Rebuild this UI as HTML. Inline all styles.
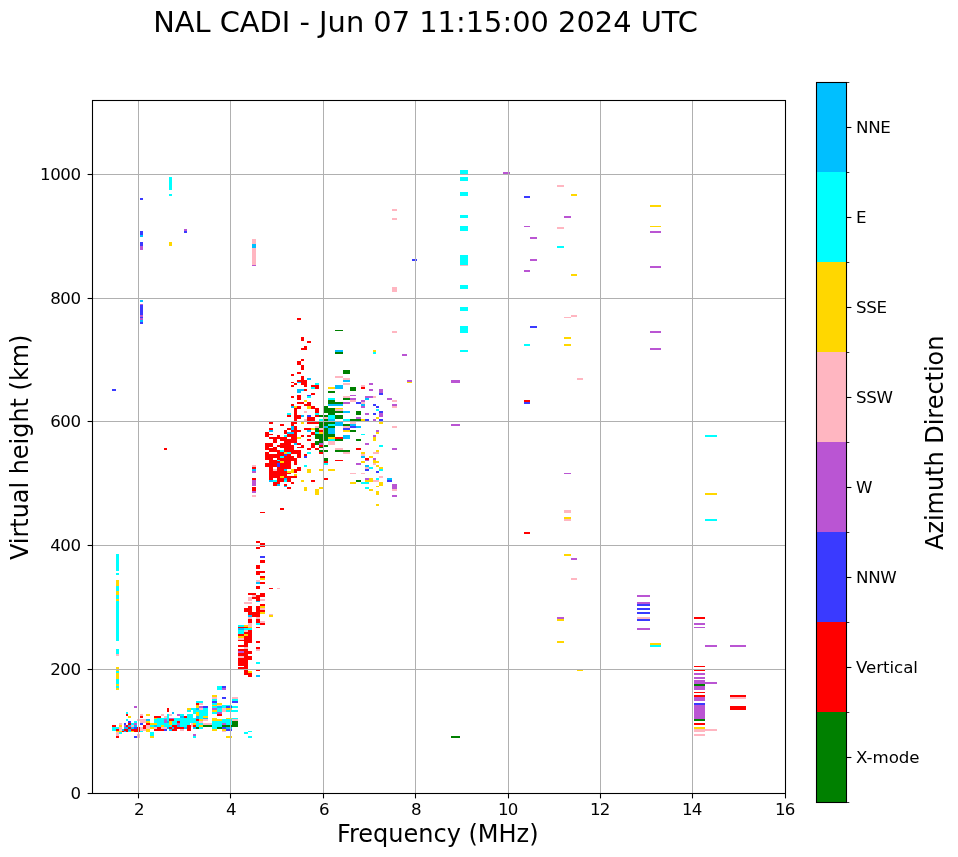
<!DOCTYPE html>
<html lang="en"><head><meta charset="utf-8"><title>NAL CADI ionogram</title>
<style>html,body{margin:0;padding:0;background:#fff}body{width:958px;height:857px;overflow:hidden}svg{display:block}text{font-family:"DejaVu Sans","Liberation Sans",sans-serif;fill:#000}</style></head><body>
<svg width="958" height="857" viewBox="0 0 958 857">
<rect width="958" height="857" fill="#fff"/>
<g shape-rendering="crispEdges">
<rect x="116" y="669" width="3" height="2" fill="#ffd700"/>
<rect x="116" y="671" width="3" height="2" fill="#00ffff"/>
<rect x="116" y="673" width="3" height="6" fill="#ffd700"/>
<rect x="116" y="679" width="3" height="5" fill="#00ffff"/>
<rect x="116" y="684" width="3" height="2" fill="#ffd700"/>
<rect x="116" y="686" width="3" height="2" fill="#00ffff"/>
<rect x="116" y="688" width="3" height="2" fill="#ffd700"/>
<rect x="134" y="706" width="3" height="2" fill="#ba55d3"/>
<rect x="167" y="708" width="2" height="4" fill="#ff0000"/>
<rect x="187" y="708" width="3" height="2" fill="#ffd700"/>
<rect x="187" y="710" width="3" height="2" fill="#00ffff"/>
<rect x="172" y="712" width="2" height="2" fill="#00bfff"/>
<rect x="126" y="712" width="2" height="2" fill="#00ffff"/>
<rect x="126" y="714" width="2" height="2" fill="#ff0000"/>
<rect x="128" y="716" width="3" height="2" fill="#ffd700"/>
<rect x="140" y="714" width="3" height="2" fill="#ffb6c1"/>
<rect x="140" y="716" width="3" height="2" fill="#ff0000"/>
<rect x="146" y="714" width="4" height="2" fill="#ffd700"/>
<rect x="161" y="714" width="3" height="2" fill="#ffb6c1"/>
<rect x="169" y="714" width="3" height="2" fill="#ffb6c1"/>
<rect x="177" y="714" width="3" height="2" fill="#ba55d3"/>
<rect x="180" y="714" width="4" height="2" fill="#00ffff"/>
<rect x="180" y="716" width="4" height="2" fill="#00bfff"/>
<rect x="180" y="718" width="4" height="1" fill="#ffd700"/>
<rect x="184" y="716" width="3" height="2" fill="#ff0000"/>
<rect x="187" y="714" width="3" height="11" fill="#00ffff"/>
<rect x="154" y="716" width="7" height="3" fill="#ff0000"/>
<rect x="164" y="716" width="3" height="3" fill="#ffb6c1"/>
<rect x="167" y="714" width="2" height="5" fill="#00ffff"/>
<rect x="154" y="718" width="36" height="9" fill="#00ffff"/>
<rect x="154" y="718" width="3" height="1" fill="#ffd700"/>
<rect x="164" y="719" width="3" height="4" fill="#ba55d3"/>
<rect x="167" y="721" width="2" height="2" fill="#00bfff"/>
<rect x="169" y="718" width="5" height="1" fill="#ba55d3"/>
<rect x="169" y="719" width="5" height="2" fill="#ff0000"/>
<rect x="169" y="721" width="3" height="4" fill="#ffd700"/>
<rect x="177" y="721" width="3" height="2" fill="#ff0000"/>
<rect x="177" y="723" width="3" height="2" fill="#ba55d3"/>
<rect x="177" y="725" width="3" height="2" fill="#00bfff"/>
<rect x="161" y="725" width="3" height="2" fill="#ffd700"/>
<rect x="154" y="725" width="3" height="2" fill="#00bfff"/>
<rect x="150" y="723" width="7" height="2" fill="#ffd700"/>
<rect x="150" y="725" width="4" height="2" fill="#00ffff"/>
<rect x="150" y="727" width="4" height="2" fill="#ffd700"/>
<rect x="154" y="727" width="36" height="4" fill="#ff0000"/>
<rect x="154" y="727" width="3" height="2" fill="#ffb6c1"/>
<rect x="161" y="727" width="6" height="2" fill="#ffb6c1"/>
<rect x="164" y="729" width="3" height="2" fill="#3a3aff"/>
<rect x="167" y="727" width="2" height="2" fill="#00bfff"/>
<rect x="169" y="729" width="3" height="2" fill="#00bfff"/>
<rect x="172" y="725" width="5" height="6" fill="#ff0000"/>
<rect x="172" y="727" width="2" height="2" fill="#00bfff"/>
<rect x="180" y="729" width="4" height="2" fill="#ffb6c1"/>
<rect x="177" y="729" width="3" height="2" fill="#ffffff"/>
<rect x="184" y="727" width="3" height="2" fill="#00bfff"/>
<rect x="184" y="729" width="3" height="2" fill="#ffffff"/>
<rect x="187" y="725" width="3" height="6" fill="#ff0000"/>
<rect x="167" y="729" width="2" height="2" fill="#ffffff"/>
<rect x="112" y="725" width="4" height="2" fill="#ff0000"/>
<rect x="112" y="727" width="4" height="4" fill="#00ffff"/>
<rect x="116" y="727" width="3" height="2" fill="#00ffff"/>
<rect x="116" y="729" width="3" height="2" fill="#ff0000"/>
<rect x="116" y="731" width="3" height="1" fill="#ffd700"/>
<rect x="116" y="732" width="3" height="4" fill="#ffb6c1"/>
<rect x="116" y="736" width="3" height="2" fill="#ff0000"/>
<rect x="119" y="723" width="3" height="2" fill="#ffb6c1"/>
<rect x="119" y="725" width="3" height="2" fill="#ffd700"/>
<rect x="119" y="727" width="3" height="4" fill="#ffb6c1"/>
<rect x="119" y="731" width="3" height="1" fill="#ffd700"/>
<rect x="119" y="732" width="3" height="2" fill="#00ffff"/>
<rect x="122" y="729" width="2" height="2" fill="#00bfff"/>
<rect x="122" y="731" width="2" height="1" fill="#ff0000"/>
<rect x="124" y="723" width="2" height="2" fill="#3a3aff"/>
<rect x="124" y="725" width="2" height="2" fill="#ba55d3"/>
<rect x="124" y="727" width="4" height="2" fill="#00bfff"/>
<rect x="124" y="729" width="4" height="3" fill="#ff0000"/>
<rect x="124" y="731" width="2" height="1" fill="#00bfff"/>
<rect x="126" y="725" width="2" height="2" fill="#ff0000"/>
<rect x="126" y="719" width="2" height="2" fill="#00ffff"/>
<rect x="128" y="721" width="3" height="2" fill="#3a3aff"/>
<rect x="128" y="723" width="3" height="2" fill="#ff0000"/>
<rect x="128" y="725" width="3" height="2" fill="#00bfff"/>
<rect x="128" y="727" width="3" height="2" fill="#ff0000"/>
<rect x="128" y="729" width="3" height="2" fill="#00bfff"/>
<rect x="128" y="731" width="3" height="1" fill="#00ffff"/>
<rect x="131" y="723" width="3" height="2" fill="#00ffff"/>
<rect x="131" y="725" width="3" height="2" fill="#ffb6c1"/>
<rect x="131" y="727" width="3" height="2" fill="#00bfff"/>
<rect x="131" y="729" width="3" height="2" fill="#ff0000"/>
<rect x="131" y="731" width="3" height="1" fill="#ffd700"/>
<rect x="134" y="721" width="3" height="2" fill="#00ffff"/>
<rect x="134" y="723" width="3" height="2" fill="#ba55d3"/>
<rect x="134" y="725" width="3" height="2" fill="#00bfff"/>
<rect x="134" y="727" width="3" height="2" fill="#3a3aff"/>
<rect x="134" y="729" width="6" height="3" fill="#ff0000"/>
<rect x="134" y="736" width="3" height="2" fill="#3a3aff"/>
<rect x="137" y="719" width="3" height="2" fill="#ffb6c1"/>
<rect x="137" y="727" width="3" height="2" fill="#ff0000"/>
<rect x="137" y="734" width="3" height="4" fill="#ffb6c1"/>
<rect x="140" y="719" width="6" height="4" fill="#ffb6c1"/>
<rect x="140" y="723" width="3" height="2" fill="#3a3aff"/>
<rect x="140" y="727" width="3" height="4" fill="#ffb6c1"/>
<rect x="140" y="731" width="3" height="1" fill="#00ffff"/>
<rect x="143" y="725" width="3" height="4" fill="#ff0000"/>
<rect x="143" y="729" width="3" height="2" fill="#ffb6c1"/>
<rect x="146" y="719" width="4" height="2" fill="#00bfff"/>
<rect x="146" y="721" width="4" height="2" fill="#ffd700"/>
<rect x="146" y="723" width="4" height="2" fill="#ff0000"/>
<rect x="146" y="725" width="4" height="4" fill="#ffb6c1"/>
<rect x="146" y="729" width="4" height="3" fill="#ffd700"/>
<rect x="150" y="732" width="4" height="4" fill="#00ffff"/>
<rect x="150" y="736" width="4" height="2" fill="#ffd700"/>
<rect x="244" y="669" width="4" height="6" fill="#ff0000"/>
<rect x="248" y="673" width="4" height="4" fill="#ff0000"/>
<rect x="248" y="671" width="4" height="2" fill="#ffd700"/>
<rect x="256" y="669" width="4" height="2" fill="#ff0000"/>
<rect x="256" y="675" width="4" height="2" fill="#00bfff"/>
<rect x="217" y="686" width="5" height="4" fill="#00ffff"/>
<rect x="222" y="686" width="4" height="2" fill="#3a3aff"/>
<rect x="222" y="688" width="4" height="2" fill="#ba55d3"/>
<rect x="212" y="695" width="5" height="2" fill="#ffd700"/>
<rect x="212" y="697" width="5" height="2" fill="#ffb6c1"/>
<rect x="212" y="699" width="5" height="2" fill="#00ffff"/>
<rect x="212" y="701" width="5" height="2" fill="#3a3aff"/>
<rect x="212" y="703" width="5" height="2" fill="#00ffff"/>
<rect x="212" y="705" width="5" height="1" fill="#ffd700"/>
<rect x="212" y="706" width="5" height="2" fill="#00ffff"/>
<rect x="212" y="708" width="5" height="2" fill="#ba55d3"/>
<rect x="212" y="710" width="5" height="2" fill="#ffd700"/>
<rect x="212" y="712" width="5" height="2" fill="#00ffff"/>
<rect x="222" y="697" width="4" height="2" fill="#3a3aff"/>
<rect x="232" y="697" width="6" height="2" fill="#ffb6c1"/>
<rect x="232" y="699" width="6" height="2" fill="#00ffff"/>
<rect x="232" y="701" width="6" height="2" fill="#3a3aff"/>
<rect x="232" y="706" width="6" height="2" fill="#00ffff"/>
<rect x="232" y="710" width="6" height="2" fill="#00ffff"/>
<rect x="217" y="703" width="5" height="2" fill="#ffd700"/>
<rect x="217" y="705" width="5" height="1" fill="#ffb6c1"/>
<rect x="217" y="706" width="5" height="2" fill="#00bfff"/>
<rect x="217" y="708" width="5" height="4" fill="#00ffff"/>
<rect x="217" y="712" width="5" height="2" fill="#ba55d3"/>
<rect x="217" y="714" width="5" height="2" fill="#ff0000"/>
<rect x="222" y="705" width="4" height="3" fill="#00ffff"/>
<rect x="222" y="708" width="4" height="4" fill="#ffb6c1"/>
<rect x="226" y="705" width="6" height="1" fill="#00ffff"/>
<rect x="226" y="706" width="6" height="2" fill="#3a3aff"/>
<rect x="226" y="708" width="6" height="2" fill="#ffd700"/>
<rect x="226" y="710" width="6" height="2" fill="#00ffff"/>
<rect x="196" y="701" width="7" height="2" fill="#00ffff"/>
<rect x="196" y="703" width="3" height="2" fill="#ff0000"/>
<rect x="199" y="703" width="4" height="2" fill="#ffb6c1"/>
<rect x="196" y="705" width="3" height="3" fill="#ffd700"/>
<rect x="199" y="706" width="4" height="2" fill="#ba55d3"/>
<rect x="203" y="706" width="5" height="2" fill="#3a3aff"/>
<rect x="190" y="708" width="18" height="19" fill="#00ffff"/>
<rect x="196" y="708" width="3" height="2" fill="#00bfff"/>
<rect x="199" y="708" width="4" height="2" fill="#ffb6c1"/>
<rect x="190" y="708" width="1" height="2" fill="#ffd700"/>
<rect x="191" y="710" width="2" height="2" fill="#ffffff"/>
<rect x="190" y="712" width="3" height="2" fill="#ffffff"/>
<rect x="193" y="714" width="3" height="4" fill="#ffffff"/>
<rect x="196" y="712" width="3" height="4" fill="#ffd700"/>
<rect x="196" y="716" width="3" height="3" fill="#00bfff"/>
<rect x="196" y="719" width="3" height="2" fill="#ff0000"/>
<rect x="199" y="719" width="4" height="2" fill="#ffd700"/>
<rect x="199" y="721" width="4" height="2" fill="#ffb6c1"/>
<rect x="203" y="716" width="5" height="2" fill="#ffd700"/>
<rect x="203" y="718" width="5" height="1" fill="#00bfff"/>
<rect x="203" y="719" width="5" height="2" fill="#ffb6c1"/>
<rect x="203" y="721" width="5" height="2" fill="#ffffff"/>
<rect x="203" y="723" width="9" height="2" fill="#ffb6c1"/>
<rect x="203" y="725" width="9" height="2" fill="#008000"/>
<rect x="193" y="723" width="3" height="2" fill="#ffd700"/>
<rect x="193" y="725" width="3" height="2" fill="#ff0000"/>
<rect x="193" y="727" width="3" height="2" fill="#00bfff"/>
<rect x="196" y="727" width="3" height="2" fill="#008000"/>
<rect x="199" y="727" width="4" height="2" fill="#00ffff"/>
<rect x="199" y="725" width="4" height="2" fill="#ffd700"/>
<rect x="191" y="723" width="2" height="4" fill="#ffb6c1"/>
<rect x="190" y="723" width="1" height="2" fill="#ffffff"/>
<rect x="190" y="725" width="1" height="6" fill="#ff0000"/>
<rect x="193" y="734" width="3" height="2" fill="#ba55d3"/>
<rect x="193" y="736" width="3" height="2" fill="#00ffff"/>
<rect x="212" y="719" width="20" height="8" fill="#00ffff"/>
<rect x="212" y="718" width="5" height="3" fill="#ffd700"/>
<rect x="217" y="719" width="5" height="2" fill="#ffd700"/>
<rect x="226" y="718" width="6" height="1" fill="#ffd700"/>
<rect x="222" y="723" width="4" height="2" fill="#ba55d3"/>
<rect x="222" y="725" width="10" height="2" fill="#008000"/>
<rect x="217" y="727" width="5" height="2" fill="#008000"/>
<rect x="212" y="727" width="5" height="2" fill="#00ffff"/>
<rect x="212" y="729" width="5" height="2" fill="#ffd700"/>
<rect x="222" y="727" width="4" height="2" fill="#3a3aff"/>
<rect x="226" y="727" width="6" height="2" fill="#00bfff"/>
<rect x="222" y="729" width="4" height="2" fill="#ffd700"/>
<rect x="222" y="731" width="4" height="1" fill="#ffb6c1"/>
<rect x="226" y="729" width="6" height="2" fill="#3a3aff"/>
<rect x="232" y="718" width="6" height="1" fill="#00ffff"/>
<rect x="232" y="719" width="6" height="2" fill="#ffb6c1"/>
<rect x="232" y="721" width="6" height="6" fill="#008000"/>
<rect x="226" y="736" width="6" height="2" fill="#ffd700"/>
<rect x="244" y="732" width="4" height="2" fill="#00ffff"/>
<rect x="248" y="731" width="4" height="1" fill="#00ffff"/>
<rect x="248" y="736" width="4" height="2" fill="#00ffff"/>
<rect x="116" y="554" width="3" height="17" fill="#00ffff"/>
<rect x="116" y="573" width="3" height="2" fill="#00ffff"/>
<rect x="116" y="580" width="3" height="6" fill="#ffd700"/>
<rect x="116" y="586" width="3" height="5" fill="#00ffff"/>
<rect x="116" y="591" width="3" height="4" fill="#ffd700"/>
<rect x="116" y="595" width="3" height="4" fill="#00ffff"/>
<rect x="116" y="599" width="3" height="2" fill="#ffd700"/>
<rect x="116" y="601" width="3" height="40" fill="#00ffff"/>
<rect x="116" y="649" width="3" height="5" fill="#00ffff"/>
<rect x="116" y="654" width="3" height="2" fill="#ffb6c1"/>
<rect x="116" y="667" width="3" height="4" fill="#ffd700"/>
<rect x="248" y="593" width="8" height="2" fill="#ff0000"/>
<rect x="260" y="593" width="5" height="4" fill="#ff0000"/>
<rect x="256" y="595" width="4" height="6" fill="#ff0000"/>
<rect x="252" y="595" width="4" height="2" fill="#ffb6c1"/>
<rect x="252" y="597" width="4" height="2" fill="#ff0000"/>
<rect x="248" y="597" width="4" height="4" fill="#ffb6c1"/>
<rect x="260" y="599" width="5" height="2" fill="#ffb6c1"/>
<rect x="256" y="601" width="4" height="1" fill="#00bfff"/>
<rect x="244" y="602" width="8" height="2" fill="#ffb6c1"/>
<rect x="260" y="604" width="5" height="2" fill="#ff0000"/>
<rect x="260" y="606" width="5" height="2" fill="#ffd700"/>
<rect x="260" y="608" width="5" height="2" fill="#ffb6c1"/>
<rect x="260" y="610" width="5" height="2" fill="#ff0000"/>
<rect x="260" y="612" width="5" height="2" fill="#ffd700"/>
<rect x="248" y="606" width="4" height="9" fill="#ff0000"/>
<rect x="244" y="608" width="4" height="4" fill="#ff0000"/>
<rect x="252" y="612" width="4" height="5" fill="#ff0000"/>
<rect x="256" y="606" width="4" height="11" fill="#ff0000"/>
<rect x="248" y="615" width="4" height="2" fill="#00bfff"/>
<rect x="248" y="617" width="4" height="2" fill="#ffb6c1"/>
<rect x="248" y="619" width="4" height="4" fill="#ff0000"/>
<rect x="256" y="617" width="4" height="2" fill="#ffb6c1"/>
<rect x="256" y="619" width="4" height="4" fill="#ff0000"/>
<rect x="260" y="621" width="5" height="2" fill="#ffb6c1"/>
<rect x="256" y="623" width="4" height="2" fill="#00ffff"/>
<rect x="260" y="623" width="5" height="2" fill="#ff0000"/>
<rect x="248" y="623" width="4" height="4" fill="#ffb6c1"/>
<rect x="269" y="615" width="4" height="2" fill="#ffd700"/>
<rect x="269" y="614" width="4" height="1" fill="#ffb6c1"/>
<rect x="238" y="625" width="6" height="2" fill="#00ffff"/>
<rect x="244" y="625" width="4" height="2" fill="#ffd700"/>
<rect x="238" y="627" width="14" height="1" fill="#ff0000"/>
<rect x="248" y="627" width="4" height="1" fill="#ffd700"/>
<rect x="238" y="628" width="6" height="2" fill="#00bfff"/>
<rect x="244" y="628" width="8" height="2" fill="#00ffff"/>
<rect x="256" y="627" width="4" height="1" fill="#ff0000"/>
<rect x="238" y="630" width="6" height="4" fill="#00ffff"/>
<rect x="244" y="630" width="4" height="2" fill="#ffb6c1"/>
<rect x="248" y="630" width="4" height="13" fill="#ff0000"/>
<rect x="244" y="632" width="4" height="2" fill="#ff0000"/>
<rect x="238" y="634" width="6" height="2" fill="#ff0000"/>
<rect x="244" y="634" width="4" height="2" fill="#ffd700"/>
<rect x="238" y="636" width="6" height="2" fill="#ffd700"/>
<rect x="244" y="636" width="4" height="11" fill="#ff0000"/>
<rect x="238" y="638" width="6" height="2" fill="#ffb6c1"/>
<rect x="238" y="640" width="6" height="1" fill="#ff0000"/>
<rect x="238" y="645" width="6" height="2" fill="#ff0000"/>
<rect x="244" y="647" width="4" height="2" fill="#ffb6c1"/>
<rect x="238" y="649" width="10" height="2" fill="#ff0000"/>
<rect x="238" y="651" width="6" height="2" fill="#ba55d3"/>
<rect x="244" y="651" width="8" height="3" fill="#ff0000"/>
<rect x="238" y="653" width="10" height="3" fill="#ff0000"/>
<rect x="238" y="656" width="6" height="2" fill="#ffb6c1"/>
<rect x="244" y="656" width="8" height="4" fill="#ff0000"/>
<rect x="238" y="658" width="10" height="11" fill="#ff0000"/>
<rect x="238" y="666" width="6" height="1" fill="#ffffff"/>
<rect x="256" y="641" width="4" height="2" fill="#ff0000"/>
<rect x="256" y="647" width="4" height="2" fill="#ff0000"/>
<rect x="256" y="649" width="4" height="2" fill="#ffb6c1"/>
<rect x="256" y="662" width="4" height="2" fill="#00ffff"/>
<rect x="260" y="512" width="5" height="1" fill="#ff0000"/>
<rect x="256" y="541" width="4" height="2" fill="#ff0000"/>
<rect x="260" y="543" width="5" height="4" fill="#ff0000"/>
<rect x="256" y="547" width="4" height="2" fill="#ff0000"/>
<rect x="260" y="556" width="5" height="2" fill="#3a3aff"/>
<rect x="260" y="560" width="5" height="3" fill="#ff0000"/>
<rect x="256" y="565" width="4" height="4" fill="#ff0000"/>
<rect x="256" y="571" width="4" height="4" fill="#ff0000"/>
<rect x="260" y="571" width="5" height="2" fill="#ff0000"/>
<rect x="260" y="576" width="5" height="2" fill="#ff0000"/>
<rect x="260" y="578" width="5" height="2" fill="#ffd700"/>
<rect x="256" y="580" width="4" height="2" fill="#ffb6c1"/>
<rect x="256" y="582" width="4" height="2" fill="#00bfff"/>
<rect x="260" y="582" width="5" height="2" fill="#ff0000"/>
<rect x="256" y="586" width="4" height="3" fill="#ff0000"/>
<rect x="269" y="588" width="4" height="1" fill="#ff0000"/>
<rect x="277" y="588" width="3" height="1" fill="#ffb6c1"/>
<rect x="297" y="318" width="4" height="2" fill="#ff0000"/>
<rect x="335" y="330" width="5" height="1" fill="#008000"/>
<rect x="301" y="337" width="3" height="4" fill="#ff0000"/>
<rect x="307" y="341" width="4" height="2" fill="#ff0000"/>
<rect x="304" y="346" width="3" height="4" fill="#ff0000"/>
<rect x="301" y="348" width="3" height="2" fill="#ff0000"/>
<rect x="335" y="350" width="5" height="2" fill="#00bfff"/>
<rect x="335" y="352" width="5" height="2" fill="#008000"/>
<rect x="301" y="359" width="3" height="2" fill="#ff0000"/>
<rect x="297" y="361" width="4" height="4" fill="#ff0000"/>
<rect x="301" y="365" width="3" height="5" fill="#ff0000"/>
<rect x="297" y="372" width="4" height="2" fill="#ff0000"/>
<rect x="291" y="374" width="3" height="2" fill="#ff0000"/>
<rect x="301" y="376" width="3" height="4" fill="#ff0000"/>
<rect x="307" y="378" width="4" height="2" fill="#00bfff"/>
<rect x="335" y="376" width="5" height="2" fill="#ffb6c1"/>
<rect x="297" y="380" width="10" height="2" fill="#ff0000"/>
<rect x="297" y="382" width="4" height="1" fill="#00bfff"/>
<rect x="291" y="382" width="3" height="1" fill="#ff0000"/>
<rect x="294" y="383" width="3" height="2" fill="#ff0000"/>
<rect x="291" y="385" width="3" height="2" fill="#ff0000"/>
<rect x="301" y="382" width="6" height="3" fill="#ff0000"/>
<rect x="304" y="385" width="3" height="2" fill="#ff0000"/>
<rect x="315" y="383" width="4" height="2" fill="#00ffff"/>
<rect x="311" y="385" width="8" height="2" fill="#ff0000"/>
<rect x="311" y="387" width="4" height="2" fill="#00ffff"/>
<rect x="315" y="387" width="4" height="2" fill="#ff0000"/>
<rect x="297" y="389" width="7" height="2" fill="#00bfff"/>
<rect x="297" y="391" width="4" height="2" fill="#00bfff"/>
<rect x="304" y="389" width="3" height="2" fill="#ff0000"/>
<rect x="328" y="387" width="7" height="2" fill="#ffd700"/>
<rect x="335" y="385" width="5" height="4" fill="#00bfff"/>
<rect x="328" y="391" width="7" height="2" fill="#008000"/>
<rect x="311" y="393" width="4" height="2" fill="#ff0000"/>
<rect x="307" y="395" width="4" height="1" fill="#3a3aff"/>
<rect x="307" y="396" width="4" height="2" fill="#00ffff"/>
<rect x="291" y="396" width="3" height="2" fill="#ff0000"/>
<rect x="297" y="395" width="4" height="5" fill="#ff0000"/>
<rect x="304" y="400" width="3" height="2" fill="#ffd700"/>
<rect x="328" y="398" width="7" height="2" fill="#00ffff"/>
<rect x="328" y="400" width="7" height="4" fill="#008000"/>
<rect x="335" y="402" width="5" height="2" fill="#008000"/>
<rect x="328" y="404" width="12" height="2" fill="#00bfff"/>
<rect x="297" y="402" width="7" height="2" fill="#ff0000"/>
<rect x="307" y="402" width="4" height="2" fill="#ff0000"/>
<rect x="304" y="404" width="7" height="2" fill="#ff0000"/>
<rect x="291" y="404" width="3" height="2" fill="#ff0000"/>
<rect x="291" y="406" width="3" height="2" fill="#00bfff"/>
<rect x="294" y="406" width="3" height="2" fill="#ffd700"/>
<rect x="297" y="406" width="4" height="3" fill="#ff0000"/>
<rect x="307" y="406" width="4" height="3" fill="#ffd700"/>
<rect x="311" y="406" width="4" height="3" fill="#ff0000"/>
<rect x="324" y="406" width="4" height="7" fill="#008000"/>
<rect x="328" y="408" width="7" height="7" fill="#008000"/>
<rect x="335" y="408" width="5" height="1" fill="#ffd700"/>
<rect x="335" y="409" width="5" height="2" fill="#ffb6c1"/>
<rect x="335" y="411" width="5" height="2" fill="#008000"/>
<rect x="294" y="408" width="3" height="13" fill="#ff0000"/>
<rect x="315" y="408" width="4" height="5" fill="#ff0000"/>
<rect x="304" y="411" width="3" height="2" fill="#ffb6c1"/>
<rect x="287" y="413" width="4" height="2" fill="#00ffff"/>
<rect x="315" y="413" width="4" height="2" fill="#00ffff"/>
<rect x="287" y="415" width="4" height="2" fill="#ff0000"/>
<rect x="297" y="415" width="4" height="4" fill="#ff0000"/>
<rect x="301" y="415" width="3" height="2" fill="#00bfff"/>
<rect x="307" y="415" width="4" height="2" fill="#3a3aff"/>
<rect x="315" y="415" width="4" height="2" fill="#ff0000"/>
<rect x="319" y="415" width="4" height="2" fill="#008000"/>
<rect x="324" y="415" width="4" height="2" fill="#008000"/>
<rect x="328" y="415" width="7" height="4" fill="#00ffff"/>
<rect x="335" y="415" width="5" height="4" fill="#008000"/>
<rect x="324" y="417" width="4" height="2" fill="#ffb6c1"/>
<rect x="307" y="417" width="8" height="4" fill="#ff0000"/>
<rect x="304" y="419" width="3" height="2" fill="#ffb6c1"/>
<rect x="319" y="419" width="4" height="2" fill="#00ffff"/>
<rect x="324" y="419" width="4" height="2" fill="#008000"/>
<rect x="328" y="419" width="7" height="2" fill="#00bfff"/>
<rect x="294" y="421" width="3" height="1" fill="#ff0000"/>
<rect x="304" y="421" width="3" height="1" fill="#ffb6c1"/>
<rect x="307" y="421" width="8" height="1" fill="#ff0000"/>
<rect x="269" y="422" width="4" height="2" fill="#ff0000"/>
<rect x="291" y="422" width="6" height="2" fill="#ff0000"/>
<rect x="301" y="422" width="3" height="2" fill="#ffd700"/>
<rect x="307" y="422" width="8" height="2" fill="#ff0000"/>
<rect x="280" y="424" width="4" height="2" fill="#ff0000"/>
<rect x="291" y="424" width="3" height="2" fill="#ff0000"/>
<rect x="291" y="426" width="3" height="2" fill="#00bfff"/>
<rect x="294" y="426" width="3" height="2" fill="#ff0000"/>
<rect x="269" y="428" width="4" height="2" fill="#ff0000"/>
<rect x="287" y="428" width="4" height="2" fill="#ff0000"/>
<rect x="291" y="428" width="3" height="2" fill="#00bfff"/>
<rect x="294" y="428" width="3" height="2" fill="#ff0000"/>
<rect x="304" y="428" width="7" height="2" fill="#ff0000"/>
<rect x="311" y="428" width="4" height="2" fill="#ffd700"/>
<rect x="269" y="430" width="4" height="2" fill="#00bfff"/>
<rect x="284" y="430" width="3" height="2" fill="#ff0000"/>
<rect x="291" y="430" width="10" height="2" fill="#ff0000"/>
<rect x="307" y="430" width="4" height="2" fill="#00bfff"/>
<rect x="265" y="432" width="4" height="2" fill="#ff0000"/>
<rect x="284" y="432" width="3" height="2" fill="#ff0000"/>
<rect x="287" y="432" width="7" height="2" fill="#00bfff"/>
<rect x="294" y="432" width="3" height="2" fill="#ff0000"/>
<rect x="311" y="432" width="4" height="2" fill="#ff0000"/>
<rect x="265" y="434" width="8" height="1" fill="#ff0000"/>
<rect x="287" y="434" width="10" height="1" fill="#ff0000"/>
<rect x="311" y="434" width="4" height="1" fill="#ff0000"/>
<rect x="265" y="435" width="4" height="2" fill="#ff0000"/>
<rect x="277" y="435" width="3" height="2" fill="#ff0000"/>
<rect x="284" y="435" width="3" height="2" fill="#00ffff"/>
<rect x="287" y="435" width="10" height="2" fill="#ff0000"/>
<rect x="301" y="435" width="3" height="2" fill="#ff0000"/>
<rect x="307" y="435" width="4" height="2" fill="#ff0000"/>
<rect x="269" y="437" width="18" height="2" fill="#ff0000"/>
<rect x="291" y="437" width="6" height="2" fill="#ff0000"/>
<rect x="297" y="437" width="4" height="2" fill="#ffd700"/>
<rect x="273" y="439" width="4" height="2" fill="#ff0000"/>
<rect x="280" y="439" width="17" height="2" fill="#ff0000"/>
<rect x="307" y="439" width="4" height="2" fill="#ff0000"/>
<rect x="273" y="441" width="4" height="2" fill="#ff0000"/>
<rect x="284" y="441" width="13" height="2" fill="#ff0000"/>
<rect x="265" y="443" width="8" height="2" fill="#ff0000"/>
<rect x="280" y="443" width="11" height="2" fill="#ff0000"/>
<rect x="294" y="443" width="3" height="2" fill="#00bfff"/>
<rect x="297" y="443" width="4" height="2" fill="#ff0000"/>
<rect x="311" y="443" width="4" height="2" fill="#ff0000"/>
<rect x="265" y="445" width="8" height="2" fill="#ff0000"/>
<rect x="277" y="445" width="17" height="2" fill="#ff0000"/>
<rect x="301" y="445" width="3" height="2" fill="#ff0000"/>
<rect x="311" y="445" width="4" height="2" fill="#ff0000"/>
<rect x="265" y="447" width="4" height="1" fill="#ff0000"/>
<rect x="273" y="447" width="4" height="1" fill="#ff0000"/>
<rect x="280" y="447" width="14" height="1" fill="#ff0000"/>
<rect x="297" y="447" width="7" height="1" fill="#ff0000"/>
<rect x="311" y="447" width="4" height="1" fill="#ff0000"/>
<rect x="265" y="448" width="12" height="2" fill="#ff0000"/>
<rect x="284" y="448" width="10" height="2" fill="#ff0000"/>
<rect x="307" y="448" width="4" height="2" fill="#ff0000"/>
<rect x="269" y="450" width="11" height="2" fill="#ff0000"/>
<rect x="280" y="450" width="4" height="2" fill="#00ffff"/>
<rect x="284" y="450" width="17" height="2" fill="#ff0000"/>
<rect x="265" y="452" width="4" height="2" fill="#ff0000"/>
<rect x="277" y="452" width="7" height="2" fill="#ff0000"/>
<rect x="284" y="452" width="3" height="2" fill="#ffd700"/>
<rect x="287" y="452" width="4" height="2" fill="#00ffff"/>
<rect x="291" y="452" width="10" height="2" fill="#ff0000"/>
<rect x="307" y="452" width="4" height="2" fill="#00ffff"/>
<rect x="265" y="454" width="19" height="2" fill="#ff0000"/>
<rect x="284" y="454" width="3" height="2" fill="#3a3aff"/>
<rect x="287" y="454" width="4" height="2" fill="#ff0000"/>
<rect x="297" y="454" width="4" height="2" fill="#ff0000"/>
<rect x="304" y="454" width="3" height="2" fill="#ff0000"/>
<rect x="265" y="456" width="15" height="2" fill="#ff0000"/>
<rect x="280" y="456" width="4" height="2" fill="#00ffff"/>
<rect x="284" y="456" width="10" height="2" fill="#ff0000"/>
<rect x="297" y="456" width="4" height="2" fill="#ff0000"/>
<rect x="304" y="456" width="3" height="2" fill="#3a3aff"/>
<rect x="265" y="458" width="8" height="2" fill="#ff0000"/>
<rect x="277" y="458" width="20" height="2" fill="#ff0000"/>
<rect x="269" y="460" width="8" height="1" fill="#ff0000"/>
<rect x="277" y="460" width="3" height="1" fill="#00ffff"/>
<rect x="280" y="460" width="17" height="1" fill="#ff0000"/>
<rect x="269" y="461" width="11" height="2" fill="#ff0000"/>
<rect x="280" y="461" width="4" height="2" fill="#ffd700"/>
<rect x="284" y="461" width="7" height="2" fill="#ff0000"/>
<rect x="294" y="461" width="3" height="2" fill="#ff0000"/>
<rect x="265" y="463" width="12" height="2" fill="#ff0000"/>
<rect x="277" y="463" width="3" height="2" fill="#3a3aff"/>
<rect x="280" y="463" width="11" height="2" fill="#ff0000"/>
<rect x="294" y="463" width="3" height="2" fill="#ff0000"/>
<rect x="265" y="465" width="12" height="2" fill="#ff0000"/>
<rect x="277" y="465" width="3" height="2" fill="#3a3aff"/>
<rect x="280" y="465" width="11" height="2" fill="#ff0000"/>
<rect x="304" y="465" width="3" height="2" fill="#00ffff"/>
<rect x="269" y="467" width="4" height="2" fill="#ff0000"/>
<rect x="277" y="467" width="14" height="2" fill="#ff0000"/>
<rect x="297" y="467" width="4" height="2" fill="#ff0000"/>
<rect x="269" y="469" width="4" height="2" fill="#ff0000"/>
<rect x="273" y="469" width="4" height="2" fill="#ffb6c1"/>
<rect x="277" y="469" width="7" height="2" fill="#ff0000"/>
<rect x="284" y="469" width="3" height="2" fill="#00bfff"/>
<rect x="291" y="469" width="3" height="2" fill="#ffd700"/>
<rect x="294" y="469" width="7" height="2" fill="#ff0000"/>
<rect x="307" y="469" width="4" height="2" fill="#ffd700"/>
<rect x="269" y="471" width="18" height="2" fill="#ff0000"/>
<rect x="287" y="471" width="7" height="2" fill="#ffd700"/>
<rect x="294" y="471" width="3" height="2" fill="#ff0000"/>
<rect x="307" y="471" width="4" height="2" fill="#ffd700"/>
<rect x="269" y="473" width="22" height="1" fill="#ff0000"/>
<rect x="269" y="474" width="18" height="2" fill="#ff0000"/>
<rect x="294" y="474" width="3" height="2" fill="#ffd700"/>
<rect x="269" y="476" width="11" height="2" fill="#ff0000"/>
<rect x="280" y="476" width="4" height="2" fill="#ffd700"/>
<rect x="284" y="476" width="13" height="2" fill="#ff0000"/>
<rect x="269" y="478" width="4" height="2" fill="#ff0000"/>
<rect x="277" y="478" width="7" height="2" fill="#ff0000"/>
<rect x="284" y="478" width="3" height="2" fill="#00bfff"/>
<rect x="287" y="478" width="4" height="2" fill="#ff0000"/>
<rect x="269" y="480" width="4" height="2" fill="#00bfff"/>
<rect x="273" y="480" width="4" height="2" fill="#00ffff"/>
<rect x="277" y="480" width="7" height="2" fill="#ff0000"/>
<rect x="284" y="480" width="3" height="2" fill="#00ffff"/>
<rect x="287" y="480" width="4" height="2" fill="#ff0000"/>
<rect x="301" y="480" width="3" height="2" fill="#ffd700"/>
<rect x="311" y="480" width="4" height="2" fill="#ff0000"/>
<rect x="273" y="482" width="7" height="2" fill="#ff0000"/>
<rect x="291" y="482" width="3" height="2" fill="#ff0000"/>
<rect x="273" y="484" width="4" height="2" fill="#ff0000"/>
<rect x="277" y="484" width="3" height="2" fill="#00bfff"/>
<rect x="284" y="484" width="3" height="2" fill="#ff0000"/>
<rect x="284" y="486" width="3" height="1" fill="#00bfff"/>
<rect x="287" y="487" width="4" height="2" fill="#ff0000"/>
<rect x="304" y="487" width="3" height="2" fill="#ffd700"/>
<rect x="304" y="489" width="3" height="2" fill="#ffd700"/>
<rect x="280" y="508" width="4" height="2" fill="#ff0000"/>
<rect x="260" y="512" width="5" height="1" fill="#ff0000"/>
<rect x="252" y="465" width="4" height="2" fill="#ffb6c1"/>
<rect x="252" y="467" width="4" height="2" fill="#ff0000"/>
<rect x="252" y="469" width="4" height="2" fill="#00bfff"/>
<rect x="252" y="471" width="4" height="2" fill="#ba55d3"/>
<rect x="252" y="478" width="4" height="2" fill="#ff0000"/>
<rect x="252" y="480" width="4" height="6" fill="#ba55d3"/>
<rect x="252" y="487" width="4" height="4" fill="#ff0000"/>
<rect x="252" y="491" width="4" height="2" fill="#ba55d3"/>
<rect x="252" y="495" width="4" height="2" fill="#ffb6c1"/>
<rect x="343" y="380" width="7" height="2" fill="#00bfff"/>
<rect x="343" y="383" width="7" height="2" fill="#ffb6c1"/>
<rect x="315" y="383" width="4" height="2" fill="#00ffff"/>
<rect x="369" y="383" width="4" height="2" fill="#ba55d3"/>
<rect x="315" y="385" width="4" height="2" fill="#ff0000"/>
<rect x="335" y="385" width="8" height="2" fill="#00bfff"/>
<rect x="361" y="385" width="4" height="2" fill="#ffb6c1"/>
<rect x="315" y="387" width="4" height="2" fill="#ff0000"/>
<rect x="335" y="387" width="8" height="2" fill="#00bfff"/>
<rect x="328" y="387" width="7" height="2" fill="#ffd700"/>
<rect x="350" y="387" width="6" height="2" fill="#008000"/>
<rect x="361" y="387" width="4" height="2" fill="#ff0000"/>
<rect x="350" y="389" width="6" height="2" fill="#008000"/>
<rect x="369" y="389" width="4" height="2" fill="#ba55d3"/>
<rect x="328" y="391" width="7" height="2" fill="#008000"/>
<rect x="350" y="395" width="6" height="1" fill="#ba55d3"/>
<rect x="343" y="396" width="7" height="2" fill="#ffb6c1"/>
<rect x="365" y="396" width="8" height="2" fill="#ba55d3"/>
<rect x="373" y="396" width="2" height="2" fill="#ffb6c1"/>
<rect x="328" y="398" width="7" height="2" fill="#00ffff"/>
<rect x="343" y="398" width="7" height="2" fill="#008000"/>
<rect x="350" y="398" width="6" height="2" fill="#ba55d3"/>
<rect x="365" y="398" width="4" height="2" fill="#00bfff"/>
<rect x="328" y="400" width="7" height="2" fill="#008000"/>
<rect x="350" y="400" width="6" height="2" fill="#ffb6c1"/>
<rect x="361" y="400" width="4" height="2" fill="#ba55d3"/>
<rect x="328" y="402" width="15" height="2" fill="#008000"/>
<rect x="343" y="402" width="7" height="2" fill="#ba55d3"/>
<rect x="356" y="402" width="5" height="2" fill="#3a3aff"/>
<rect x="361" y="402" width="4" height="2" fill="#ffb6c1"/>
<rect x="328" y="404" width="15" height="2" fill="#00bfff"/>
<rect x="361" y="404" width="4" height="2" fill="#00bfff"/>
<rect x="373" y="404" width="2" height="2" fill="#3a3aff"/>
<rect x="324" y="406" width="4" height="2" fill="#008000"/>
<rect x="361" y="406" width="4" height="2" fill="#ba55d3"/>
<rect x="315" y="408" width="4" height="1" fill="#ff0000"/>
<rect x="324" y="408" width="11" height="1" fill="#008000"/>
<rect x="335" y="408" width="8" height="1" fill="#ffd700"/>
<rect x="315" y="409" width="4" height="2" fill="#ff0000"/>
<rect x="324" y="409" width="11" height="2" fill="#008000"/>
<rect x="335" y="409" width="8" height="2" fill="#ffb6c1"/>
<rect x="315" y="411" width="4" height="2" fill="#ff0000"/>
<rect x="324" y="411" width="19" height="2" fill="#008000"/>
<rect x="343" y="411" width="7" height="2" fill="#00bfff"/>
<rect x="356" y="411" width="5" height="2" fill="#008000"/>
<rect x="315" y="413" width="4" height="2" fill="#00ffff"/>
<rect x="328" y="413" width="7" height="2" fill="#008000"/>
<rect x="356" y="413" width="5" height="2" fill="#008000"/>
<rect x="365" y="413" width="4" height="2" fill="#ba55d3"/>
<rect x="373" y="413" width="2" height="2" fill="#3a3aff"/>
<rect x="315" y="415" width="4" height="2" fill="#ff0000"/>
<rect x="319" y="415" width="4" height="2" fill="#008000"/>
<rect x="324" y="415" width="4" height="2" fill="#008000"/>
<rect x="328" y="415" width="7" height="2" fill="#00ffff"/>
<rect x="335" y="415" width="8" height="2" fill="#008000"/>
<rect x="324" y="417" width="4" height="2" fill="#ffb6c1"/>
<rect x="328" y="417" width="7" height="2" fill="#00ffff"/>
<rect x="335" y="417" width="8" height="2" fill="#008000"/>
<rect x="356" y="417" width="5" height="2" fill="#ba55d3"/>
<rect x="319" y="419" width="4" height="2" fill="#00ffff"/>
<rect x="324" y="419" width="4" height="2" fill="#008000"/>
<rect x="328" y="419" width="7" height="2" fill="#00bfff"/>
<rect x="343" y="419" width="7" height="2" fill="#00ffff"/>
<rect x="350" y="419" width="11" height="2" fill="#008000"/>
<rect x="361" y="419" width="4" height="2" fill="#ffd700"/>
<rect x="365" y="419" width="4" height="2" fill="#3a3aff"/>
<rect x="373" y="419" width="2" height="2" fill="#ba55d3"/>
<rect x="315" y="422" width="4" height="2" fill="#ff0000"/>
<rect x="319" y="422" width="4" height="2" fill="#008000"/>
<rect x="324" y="422" width="11" height="2" fill="#008000"/>
<rect x="335" y="422" width="8" height="2" fill="#00bfff"/>
<rect x="350" y="422" width="6" height="2" fill="#ffb6c1"/>
<rect x="319" y="424" width="4" height="2" fill="#008000"/>
<rect x="324" y="424" width="4" height="2" fill="#008000"/>
<rect x="328" y="424" width="7" height="2" fill="#00ffff"/>
<rect x="335" y="424" width="8" height="2" fill="#00bfff"/>
<rect x="343" y="424" width="7" height="2" fill="#008000"/>
<rect x="350" y="424" width="6" height="2" fill="#00bfff"/>
<rect x="315" y="426" width="4" height="2" fill="#ffb6c1"/>
<rect x="319" y="426" width="4" height="2" fill="#008000"/>
<rect x="324" y="426" width="4" height="2" fill="#00bfff"/>
<rect x="328" y="426" width="7" height="2" fill="#008000"/>
<rect x="343" y="426" width="7" height="2" fill="#ffb6c1"/>
<rect x="350" y="426" width="6" height="2" fill="#3a3aff"/>
<rect x="356" y="426" width="5" height="2" fill="#00bfff"/>
<rect x="315" y="428" width="4" height="2" fill="#008000"/>
<rect x="319" y="428" width="4" height="2" fill="#ffb6c1"/>
<rect x="324" y="428" width="4" height="2" fill="#008000"/>
<rect x="328" y="428" width="7" height="2" fill="#00bfff"/>
<rect x="343" y="428" width="7" height="2" fill="#3a3aff"/>
<rect x="315" y="430" width="4" height="2" fill="#008000"/>
<rect x="319" y="430" width="4" height="2" fill="#ff0000"/>
<rect x="324" y="430" width="4" height="2" fill="#008000"/>
<rect x="328" y="430" width="7" height="2" fill="#00bfff"/>
<rect x="343" y="430" width="7" height="2" fill="#ffd700"/>
<rect x="350" y="430" width="6" height="2" fill="#008000"/>
<rect x="315" y="432" width="4" height="2" fill="#00ffff"/>
<rect x="319" y="432" width="4" height="2" fill="#ffd700"/>
<rect x="324" y="432" width="4" height="2" fill="#008000"/>
<rect x="328" y="432" width="7" height="2" fill="#00bfff"/>
<rect x="315" y="434" width="4" height="1" fill="#00ffff"/>
<rect x="319" y="434" width="4" height="1" fill="#ffd700"/>
<rect x="324" y="434" width="4" height="1" fill="#008000"/>
<rect x="328" y="434" width="7" height="1" fill="#00bfff"/>
<rect x="315" y="434" width="8" height="1" fill="#008000"/>
<rect x="324" y="434" width="11" height="1" fill="#008000"/>
<rect x="361" y="434" width="4" height="1" fill="#00ffff"/>
<rect x="315" y="435" width="8" height="2" fill="#008000"/>
<rect x="324" y="435" width="11" height="2" fill="#008000"/>
<rect x="343" y="435" width="7" height="2" fill="#00bfff"/>
<rect x="373" y="435" width="2" height="2" fill="#ba55d3"/>
<rect x="315" y="437" width="8" height="2" fill="#008000"/>
<rect x="324" y="437" width="4" height="2" fill="#008000"/>
<rect x="328" y="437" width="7" height="2" fill="#ffd700"/>
<rect x="335" y="437" width="8" height="2" fill="#ff0000"/>
<rect x="343" y="437" width="7" height="2" fill="#00bfff"/>
<rect x="373" y="437" width="2" height="2" fill="#ffd700"/>
<rect x="319" y="439" width="4" height="2" fill="#008000"/>
<rect x="324" y="439" width="4" height="2" fill="#008000"/>
<rect x="328" y="439" width="7" height="2" fill="#00ffff"/>
<rect x="335" y="439" width="8" height="2" fill="#008000"/>
<rect x="356" y="439" width="5" height="2" fill="#008000"/>
<rect x="373" y="439" width="2" height="2" fill="#ffd700"/>
<rect x="315" y="441" width="8" height="2" fill="#008000"/>
<rect x="328" y="441" width="7" height="2" fill="#ffb6c1"/>
<rect x="315" y="443" width="4" height="2" fill="#008000"/>
<rect x="319" y="443" width="4" height="2" fill="#ba55d3"/>
<rect x="328" y="443" width="7" height="2" fill="#ffb6c1"/>
<rect x="365" y="443" width="4" height="2" fill="#ba55d3"/>
<rect x="319" y="445" width="4" height="2" fill="#ff0000"/>
<rect x="324" y="445" width="4" height="2" fill="#008000"/>
<rect x="319" y="447" width="4" height="1" fill="#008000"/>
<rect x="315" y="448" width="4" height="2" fill="#ff0000"/>
<rect x="335" y="448" width="8" height="2" fill="#ffb6c1"/>
<rect x="356" y="448" width="5" height="2" fill="#ff0000"/>
<rect x="319" y="450" width="4" height="2" fill="#008000"/>
<rect x="324" y="450" width="4" height="2" fill="#008000"/>
<rect x="335" y="450" width="15" height="2" fill="#008000"/>
<rect x="319" y="452" width="4" height="2" fill="#ff0000"/>
<rect x="343" y="452" width="7" height="2" fill="#ffb6c1"/>
<rect x="361" y="452" width="4" height="2" fill="#ffd700"/>
<rect x="373" y="452" width="2" height="2" fill="#ffb6c1"/>
<rect x="361" y="454" width="4" height="2" fill="#ffb6c1"/>
<rect x="361" y="456" width="4" height="2" fill="#00bfff"/>
<rect x="369" y="456" width="4" height="2" fill="#ffd700"/>
<rect x="324" y="458" width="4" height="2" fill="#008000"/>
<rect x="365" y="458" width="4" height="2" fill="#ff0000"/>
<rect x="373" y="458" width="2" height="2" fill="#ba55d3"/>
<rect x="324" y="460" width="4" height="1" fill="#008000"/>
<rect x="335" y="460" width="8" height="1" fill="#ff0000"/>
<rect x="365" y="460" width="4" height="1" fill="#ba55d3"/>
<rect x="373" y="460" width="2" height="1" fill="#ffd700"/>
<rect x="324" y="461" width="4" height="2" fill="#ff0000"/>
<rect x="361" y="461" width="4" height="2" fill="#ffd700"/>
<rect x="373" y="461" width="2" height="2" fill="#ffd700"/>
<rect x="324" y="463" width="4" height="2" fill="#00ffff"/>
<rect x="356" y="463" width="5" height="2" fill="#ba55d3"/>
<rect x="373" y="463" width="2" height="2" fill="#ffb6c1"/>
<rect x="365" y="465" width="4" height="2" fill="#00bfff"/>
<rect x="365" y="467" width="4" height="2" fill="#ffb6c1"/>
<rect x="369" y="467" width="4" height="2" fill="#00ffff"/>
<rect x="319" y="469" width="4" height="2" fill="#ffd700"/>
<rect x="328" y="469" width="7" height="2" fill="#ffd700"/>
<rect x="365" y="469" width="4" height="2" fill="#3a3aff"/>
<rect x="350" y="473" width="6" height="1" fill="#ffb6c1"/>
<rect x="361" y="473" width="4" height="1" fill="#ffb6c1"/>
<rect x="324" y="478" width="4" height="2" fill="#ff0000"/>
<rect x="365" y="478" width="4" height="2" fill="#ba55d3"/>
<rect x="369" y="478" width="4" height="2" fill="#ffd700"/>
<rect x="356" y="480" width="5" height="2" fill="#008000"/>
<rect x="365" y="480" width="8" height="2" fill="#ffd700"/>
<rect x="373" y="480" width="2" height="2" fill="#ffb6c1"/>
<rect x="350" y="482" width="6" height="2" fill="#ffd700"/>
<rect x="361" y="482" width="8" height="2" fill="#00ffff"/>
<rect x="319" y="487" width="4" height="2" fill="#ffd700"/>
<rect x="315" y="489" width="4" height="6" fill="#ffd700"/>
<rect x="365" y="487" width="4" height="2" fill="#00ffff"/>
<rect x="369" y="489" width="4" height="2" fill="#ffd700"/>
<rect x="335" y="330" width="8" height="1" fill="#008000"/>
<rect x="335" y="350" width="8" height="2" fill="#00bfff"/>
<rect x="335" y="352" width="8" height="2" fill="#008000"/>
<rect x="343" y="370" width="7" height="4" fill="#008000"/>
<rect x="335" y="376" width="8" height="2" fill="#ffb6c1"/>
<rect x="343" y="378" width="7" height="2" fill="#ffb6c1"/>
<rect x="373" y="350" width="2" height="2" fill="#ffd700"/>
<rect x="373" y="352" width="2" height="2" fill="#00ffff"/>
<rect x="392" y="331" width="5" height="2" fill="#ffb6c1"/>
<rect x="373" y="350" width="3" height="2" fill="#ffd700"/>
<rect x="373" y="352" width="3" height="2" fill="#00ffff"/>
<rect x="402" y="354" width="5" height="2" fill="#ba55d3"/>
<rect x="407" y="380" width="5" height="2" fill="#ba55d3"/>
<rect x="407" y="382" width="5" height="1" fill="#ffd700"/>
<rect x="451" y="380" width="9" height="3" fill="#ba55d3"/>
<rect x="370" y="383" width="3" height="2" fill="#ba55d3"/>
<rect x="370" y="389" width="3" height="2" fill="#ba55d3"/>
<rect x="379" y="389" width="4" height="4" fill="#ba55d3"/>
<rect x="379" y="393" width="4" height="2" fill="#3a3aff"/>
<rect x="370" y="396" width="3" height="2" fill="#ba55d3"/>
<rect x="373" y="396" width="3" height="2" fill="#ffb6c1"/>
<rect x="387" y="398" width="5" height="2" fill="#ba55d3"/>
<rect x="392" y="400" width="5" height="2" fill="#ffb6c1"/>
<rect x="373" y="404" width="3" height="2" fill="#3a3aff"/>
<rect x="392" y="404" width="5" height="2" fill="#ba55d3"/>
<rect x="376" y="406" width="3" height="2" fill="#3a3aff"/>
<rect x="392" y="406" width="5" height="2" fill="#ffb6c1"/>
<rect x="376" y="409" width="3" height="2" fill="#00ffff"/>
<rect x="379" y="411" width="4" height="2" fill="#3a3aff"/>
<rect x="373" y="413" width="3" height="2" fill="#3a3aff"/>
<rect x="379" y="413" width="4" height="4" fill="#ba55d3"/>
<rect x="376" y="417" width="3" height="2" fill="#ffd700"/>
<rect x="373" y="419" width="3" height="2" fill="#ba55d3"/>
<rect x="379" y="419" width="4" height="2" fill="#3a3aff"/>
<rect x="379" y="422" width="4" height="2" fill="#ffd700"/>
<rect x="451" y="424" width="9" height="2" fill="#ba55d3"/>
<rect x="392" y="426" width="5" height="2" fill="#ffb6c1"/>
<rect x="376" y="430" width="3" height="2" fill="#ba55d3"/>
<rect x="376" y="432" width="3" height="2" fill="#ffd700"/>
<rect x="373" y="435" width="3" height="2" fill="#ba55d3"/>
<rect x="373" y="437" width="3" height="4" fill="#ffd700"/>
<rect x="379" y="445" width="4" height="2" fill="#00ffff"/>
<rect x="392" y="448" width="5" height="2" fill="#ba55d3"/>
<rect x="376" y="450" width="3" height="2" fill="#ffd700"/>
<rect x="373" y="452" width="6" height="2" fill="#ffb6c1"/>
<rect x="370" y="456" width="3" height="2" fill="#ffd700"/>
<rect x="373" y="458" width="3" height="2" fill="#ba55d3"/>
<rect x="373" y="460" width="3" height="3" fill="#ffd700"/>
<rect x="376" y="461" width="3" height="2" fill="#ffd700"/>
<rect x="373" y="463" width="3" height="2" fill="#ffb6c1"/>
<rect x="376" y="465" width="3" height="2" fill="#ffd700"/>
<rect x="370" y="467" width="3" height="2" fill="#00ffff"/>
<rect x="379" y="467" width="4" height="2" fill="#ffd700"/>
<rect x="379" y="469" width="4" height="2" fill="#00ffff"/>
<rect x="376" y="471" width="3" height="2" fill="#3a3aff"/>
<rect x="379" y="476" width="4" height="2" fill="#ffb6c1"/>
<rect x="370" y="478" width="3" height="4" fill="#ffd700"/>
<rect x="376" y="478" width="3" height="2" fill="#00ffff"/>
<rect x="387" y="478" width="5" height="2" fill="#00bfff"/>
<rect x="373" y="480" width="6" height="2" fill="#ffb6c1"/>
<rect x="387" y="480" width="5" height="2" fill="#3a3aff"/>
<rect x="379" y="482" width="4" height="4" fill="#ffd700"/>
<rect x="392" y="484" width="5" height="5" fill="#ba55d3"/>
<rect x="376" y="486" width="3" height="1" fill="#ffd700"/>
<rect x="392" y="489" width="5" height="2" fill="#ffb6c1"/>
<rect x="370" y="489" width="3" height="2" fill="#ffd700"/>
<rect x="376" y="491" width="3" height="4" fill="#ffd700"/>
<rect x="392" y="495" width="5" height="2" fill="#ba55d3"/>
<rect x="376" y="504" width="3" height="2" fill="#ffd700"/>
<rect x="169" y="177" width="3" height="13" fill="#00ffff"/>
<rect x="169" y="194" width="3" height="2" fill="#00ffff"/>
<rect x="140" y="198" width="3" height="2" fill="#3a3aff"/>
<rect x="140" y="231" width="3" height="4" fill="#3a3aff"/>
<rect x="140" y="235" width="3" height="2" fill="#00bfff"/>
<rect x="184" y="229" width="3" height="2" fill="#ba55d3"/>
<rect x="184" y="231" width="3" height="2" fill="#3a3aff"/>
<rect x="140" y="242" width="3" height="4" fill="#3a3aff"/>
<rect x="140" y="246" width="3" height="4" fill="#ba55d3"/>
<rect x="169" y="242" width="3" height="4" fill="#ffd700"/>
<rect x="140" y="300" width="3" height="2" fill="#00bfff"/>
<rect x="140" y="304" width="3" height="1" fill="#ba55d3"/>
<rect x="140" y="305" width="3" height="10" fill="#3a3aff"/>
<rect x="140" y="315" width="3" height="2" fill="#ba55d3"/>
<rect x="140" y="317" width="3" height="1" fill="#3a3aff"/>
<rect x="140" y="318" width="3" height="2" fill="#ba55d3"/>
<rect x="140" y="320" width="3" height="2" fill="#00bfff"/>
<rect x="140" y="322" width="3" height="2" fill="#3a3aff"/>
<rect x="112" y="389" width="4" height="2" fill="#3a3aff"/>
<rect x="164" y="448" width="3" height="2" fill="#ff0000"/>
<rect x="252" y="239" width="4" height="5" fill="#ffb6c1"/>
<rect x="252" y="244" width="4" height="4" fill="#00bfff"/>
<rect x="252" y="248" width="4" height="17" fill="#ffb6c1"/>
<rect x="252" y="265" width="4" height="1" fill="#ba55d3"/>
<rect x="392" y="209" width="5" height="2" fill="#ffb6c1"/>
<rect x="392" y="218" width="5" height="2" fill="#ffb6c1"/>
<rect x="412" y="259" width="5" height="2" fill="#3a3aff"/>
<rect x="392" y="287" width="5" height="5" fill="#ffb6c1"/>
<rect x="460" y="170" width="8" height="4" fill="#00ffff"/>
<rect x="460" y="177" width="8" height="4" fill="#00ffff"/>
<rect x="460" y="192" width="8" height="4" fill="#00ffff"/>
<rect x="460" y="215" width="8" height="3" fill="#00ffff"/>
<rect x="460" y="226" width="8" height="5" fill="#00ffff"/>
<rect x="460" y="255" width="8" height="10" fill="#00ffff"/>
<rect x="460" y="265" width="8" height="1" fill="#ffb6c1"/>
<rect x="503" y="172" width="7" height="2" fill="#ba55d3"/>
<rect x="524" y="196" width="6" height="2" fill="#3a3aff"/>
<rect x="524" y="226" width="6" height="1" fill="#ba55d3"/>
<rect x="530" y="237" width="7" height="2" fill="#ba55d3"/>
<rect x="530" y="259" width="7" height="2" fill="#ba55d3"/>
<rect x="557" y="185" width="7" height="2" fill="#ffb6c1"/>
<rect x="571" y="194" width="6" height="2" fill="#ffd700"/>
<rect x="564" y="216" width="7" height="2" fill="#ba55d3"/>
<rect x="557" y="227" width="7" height="2" fill="#ffb6c1"/>
<rect x="557" y="246" width="7" height="2" fill="#00ffff"/>
<rect x="650" y="205" width="11" height="2" fill="#ffd700"/>
<rect x="650" y="226" width="11" height="1" fill="#ffd700"/>
<rect x="650" y="231" width="11" height="2" fill="#ba55d3"/>
<rect x="650" y="266" width="11" height="2" fill="#ba55d3"/>
<rect x="460" y="285" width="8" height="4" fill="#00ffff"/>
<rect x="460" y="307" width="8" height="4" fill="#00ffff"/>
<rect x="460" y="326" width="8" height="7" fill="#00ffff"/>
<rect x="460" y="350" width="8" height="2" fill="#00ffff"/>
<rect x="524" y="270" width="6" height="2" fill="#ba55d3"/>
<rect x="530" y="326" width="7" height="2" fill="#3a3aff"/>
<rect x="524" y="344" width="6" height="2" fill="#00ffff"/>
<rect x="571" y="274" width="6" height="2" fill="#ffd700"/>
<rect x="571" y="315" width="6" height="2" fill="#ffb6c1"/>
<rect x="564" y="317" width="7" height="1" fill="#ffb6c1"/>
<rect x="564" y="337" width="7" height="2" fill="#ffd700"/>
<rect x="564" y="344" width="7" height="2" fill="#ffd700"/>
<rect x="650" y="331" width="11" height="2" fill="#ba55d3"/>
<rect x="650" y="348" width="11" height="2" fill="#ba55d3"/>
<rect x="577" y="378" width="6" height="2" fill="#ffb6c1"/>
<rect x="524" y="400" width="6" height="2" fill="#ff0000"/>
<rect x="524" y="402" width="6" height="2" fill="#3a3aff"/>
<rect x="564" y="473" width="7" height="1" fill="#ba55d3"/>
<rect x="564" y="510" width="7" height="3" fill="#ffb6c1"/>
<rect x="564" y="517" width="7" height="2" fill="#ffd700"/>
<rect x="564" y="519" width="7" height="2" fill="#ffb6c1"/>
<rect x="524" y="532" width="6" height="2" fill="#ff0000"/>
<rect x="564" y="554" width="7" height="2" fill="#ffd700"/>
<rect x="571" y="558" width="6" height="2" fill="#ba55d3"/>
<rect x="571" y="578" width="6" height="2" fill="#ffb6c1"/>
<rect x="557" y="617" width="7" height="2" fill="#ba55d3"/>
<rect x="557" y="619" width="7" height="2" fill="#ffd700"/>
<rect x="557" y="641" width="7" height="2" fill="#ffd700"/>
<rect x="577" y="669" width="6" height="2" fill="#ffd700"/>
<rect x="451" y="736" width="9" height="2" fill="#008000"/>
<rect x="705" y="435" width="12" height="2" fill="#00ffff"/>
<rect x="705" y="493" width="12" height="2" fill="#ffd700"/>
<rect x="705" y="519" width="12" height="2" fill="#00ffff"/>
<rect x="637" y="595" width="13" height="2" fill="#ba55d3"/>
<rect x="637" y="602" width="13" height="2" fill="#ba55d3"/>
<rect x="637" y="604" width="13" height="2" fill="#3a3aff"/>
<rect x="637" y="608" width="13" height="2" fill="#3a3aff"/>
<rect x="637" y="612" width="13" height="2" fill="#3a3aff"/>
<rect x="637" y="617" width="13" height="2" fill="#ffb6c1"/>
<rect x="637" y="619" width="13" height="2" fill="#3a3aff"/>
<rect x="637" y="628" width="13" height="2" fill="#ba55d3"/>
<rect x="650" y="643" width="11" height="2" fill="#ffd700"/>
<rect x="650" y="645" width="11" height="2" fill="#00ffff"/>
<rect x="694" y="617" width="11" height="2" fill="#ff0000"/>
<rect x="694" y="623" width="11" height="2" fill="#ba55d3"/>
<rect x="694" y="627" width="11" height="1" fill="#ba55d3"/>
<rect x="694" y="666" width="11" height="1" fill="#ff0000"/>
<rect x="694" y="669" width="11" height="2" fill="#ff0000"/>
<rect x="694" y="673" width="11" height="2" fill="#ba55d3"/>
<rect x="694" y="677" width="11" height="2" fill="#ba55d3"/>
<rect x="694" y="680" width="11" height="4" fill="#ba55d3"/>
<rect x="694" y="684" width="11" height="2" fill="#008000"/>
<rect x="694" y="686" width="11" height="4" fill="#ba55d3"/>
<rect x="694" y="692" width="11" height="1" fill="#ff0000"/>
<rect x="694" y="695" width="11" height="2" fill="#ff0000"/>
<rect x="705" y="645" width="12" height="2" fill="#ba55d3"/>
<rect x="705" y="682" width="12" height="2" fill="#ba55d3"/>
<rect x="694" y="697" width="11" height="4" fill="#ba55d3"/>
<rect x="694" y="703" width="11" height="2" fill="#3a3aff"/>
<rect x="694" y="705" width="11" height="14" fill="#ba55d3"/>
<rect x="694" y="719" width="11" height="2" fill="#008000"/>
<rect x="694" y="723" width="11" height="2" fill="#ff0000"/>
<rect x="694" y="727" width="11" height="2" fill="#ffd700"/>
<rect x="694" y="729" width="11" height="3" fill="#ffb6c1"/>
<rect x="694" y="734" width="11" height="2" fill="#ffb6c1"/>
<rect x="705" y="729" width="12" height="2" fill="#ffb6c1"/>
<rect x="730" y="695" width="16" height="2" fill="#ff0000"/>
<rect x="730" y="697" width="16" height="2" fill="#ffb6c1"/>
<rect x="730" y="706" width="16" height="4" fill="#ff0000"/>
<rect x="730" y="645" width="16" height="2" fill="#ba55d3"/>
</g>
<g stroke="#b0b0b0" stroke-width="1" fill="none" shape-rendering="crispEdges">
<line x1="138.50" y1="100.50" x2="138.50" y2="793.50"/>
<line x1="230.50" y1="100.50" x2="230.50" y2="793.50"/>
<line x1="323.50" y1="100.50" x2="323.50" y2="793.50"/>
<line x1="415.50" y1="100.50" x2="415.50" y2="793.50"/>
<line x1="508.50" y1="100.50" x2="508.50" y2="793.50"/>
<line x1="600.50" y1="100.50" x2="600.50" y2="793.50"/>
<line x1="692.50" y1="100.50" x2="692.50" y2="793.50"/>
<line x1="92.50" y1="669.50" x2="785.50" y2="669.50"/>
<line x1="92.50" y1="545.50" x2="785.50" y2="545.50"/>
<line x1="92.50" y1="421.50" x2="785.50" y2="421.50"/>
<line x1="92.50" y1="298.50" x2="785.50" y2="298.50"/>
<line x1="92.50" y1="174.50" x2="785.50" y2="174.50"/>
</g>
<rect x="92.50" y="100.50" width="693.00" height="693.00" fill="none" stroke="#000" stroke-width="1.1"/>
<g stroke="#000" stroke-width="1.1">
<line x1="138.50" y1="793.50" x2="138.50" y2="798.40"/>
<line x1="230.50" y1="793.50" x2="230.50" y2="798.40"/>
<line x1="323.50" y1="793.50" x2="323.50" y2="798.40"/>
<line x1="415.50" y1="793.50" x2="415.50" y2="798.40"/>
<line x1="508.50" y1="793.50" x2="508.50" y2="798.40"/>
<line x1="600.50" y1="793.50" x2="600.50" y2="798.40"/>
<line x1="692.50" y1="793.50" x2="692.50" y2="798.40"/>
<line x1="785.50" y1="793.50" x2="785.50" y2="798.40"/>
<line x1="87.60" y1="793.50" x2="92.50" y2="793.50"/>
<line x1="87.60" y1="669.50" x2="92.50" y2="669.50"/>
<line x1="87.60" y1="545.50" x2="92.50" y2="545.50"/>
<line x1="87.60" y1="421.50" x2="92.50" y2="421.50"/>
<line x1="87.60" y1="298.50" x2="92.50" y2="298.50"/>
<line x1="87.60" y1="174.50" x2="92.50" y2="174.50"/>
</g>
<g font-size="16.67" letter-spacing="-0.4">
<text x="139.05" y="814.75" text-anchor="middle">2</text>
<text x="231.05" y="814.75" text-anchor="middle">4</text>
<text x="324.05" y="814.75" text-anchor="middle">6</text>
<text x="416.05" y="814.75" text-anchor="middle">8</text>
<text x="507.70" y="814.75" text-anchor="middle" letter-spacing="-1">10</text>
<text x="599.70" y="814.75" text-anchor="middle" letter-spacing="-1">12</text>
<text x="691.70" y="814.75" text-anchor="middle" letter-spacing="-1">14</text>
<text x="784.70" y="814.75" text-anchor="middle" letter-spacing="-1">16</text>
<text x="80.75" y="798.70" text-anchor="end">0</text>
<text x="80.75" y="674.70" text-anchor="end">200</text>
<text x="80.75" y="550.70" text-anchor="end">400</text>
<text x="80.75" y="426.70" text-anchor="end">600</text>
<text x="80.75" y="303.70" text-anchor="end">800</text>
<text x="80.75" y="179.70" text-anchor="end">1000</text>
</g>
<text x="437.75" y="841.80" font-size="24" text-anchor="middle">Frequency (MHz)</text>
<text transform="translate(27.50,447.35) rotate(-90)" font-size="23.93" text-anchor="middle">Virtual height (km)</text>
<text x="425.50" y="31.60" font-size="28.87" text-anchor="middle">NAL CADI - Jun 07 11:15:00 2024 UTC</text>
<g shape-rendering="crispEdges">
<rect x="816.50" y="712.00" width="30.00" height="90.50" fill="#008000"/>
<rect x="816.50" y="622.00" width="30.00" height="90.00" fill="#ff0000"/>
<rect x="816.50" y="532.00" width="30.00" height="90.00" fill="#3a3aff"/>
<rect x="816.50" y="442.00" width="30.00" height="90.00" fill="#ba55d3"/>
<rect x="816.50" y="352.00" width="30.00" height="90.00" fill="#ffb6c1"/>
<rect x="816.50" y="262.00" width="30.00" height="90.00" fill="#ffd700"/>
<rect x="816.50" y="172.00" width="30.00" height="90.00" fill="#00ffff"/>
<rect x="816.50" y="82.50" width="30.00" height="89.50" fill="#00bfff"/>
</g>
<rect x="816.50" y="82.50" width="30.00" height="720.00" fill="none" stroke="#000" stroke-width="1.1"/>
<g stroke="#000" stroke-width="1.1">
<line x1="846.50" y1="802.50" x2="849.30" y2="802.50" stroke-width="0.8"/>
<line x1="846.50" y1="712.50" x2="849.30" y2="712.50" stroke-width="0.8"/>
<line x1="846.50" y1="622.50" x2="849.30" y2="622.50" stroke-width="0.8"/>
<line x1="846.50" y1="532.50" x2="849.30" y2="532.50" stroke-width="0.8"/>
<line x1="846.50" y1="442.50" x2="849.30" y2="442.50" stroke-width="0.8"/>
<line x1="846.50" y1="352.50" x2="849.30" y2="352.50" stroke-width="0.8"/>
<line x1="846.50" y1="262.50" x2="849.30" y2="262.50" stroke-width="0.8"/>
<line x1="846.50" y1="172.50" x2="849.30" y2="172.50" stroke-width="0.8"/>
<line x1="846.50" y1="82.50" x2="849.30" y2="82.50" stroke-width="0.8"/>
<line x1="846.50" y1="757.50" x2="851.40" y2="757.50"/>
<line x1="846.50" y1="667.50" x2="851.40" y2="667.50"/>
<line x1="846.50" y1="577.50" x2="851.40" y2="577.50"/>
<line x1="846.50" y1="487.50" x2="851.40" y2="487.50"/>
<line x1="846.50" y1="397.50" x2="851.40" y2="397.50"/>
<line x1="846.50" y1="307.50" x2="851.40" y2="307.50"/>
<line x1="846.50" y1="217.50" x2="851.40" y2="217.50"/>
<line x1="846.50" y1="127.50" x2="851.40" y2="127.50"/>
</g>
<g font-size="16.67" letter-spacing="-0.08">
<text x="856.10" y="762.70">X-mode</text>
<text x="856.10" y="672.70">Vertical</text>
<text x="856.10" y="582.70" letter-spacing="-0.4">NNW</text>
<text x="856.10" y="492.70">W</text>
<text x="856.10" y="402.70" letter-spacing="-0.4">SSW</text>
<text x="856.10" y="312.70" letter-spacing="-0.4">SSE</text>
<text x="856.10" y="222.70">E</text>
<text x="856.10" y="132.70" letter-spacing="-0.4">NNE</text>
</g>
<text transform="translate(943.00,442.80) rotate(-90)" font-size="23.94" text-anchor="middle">Azimuth Direction</text>
</svg></body></html>
